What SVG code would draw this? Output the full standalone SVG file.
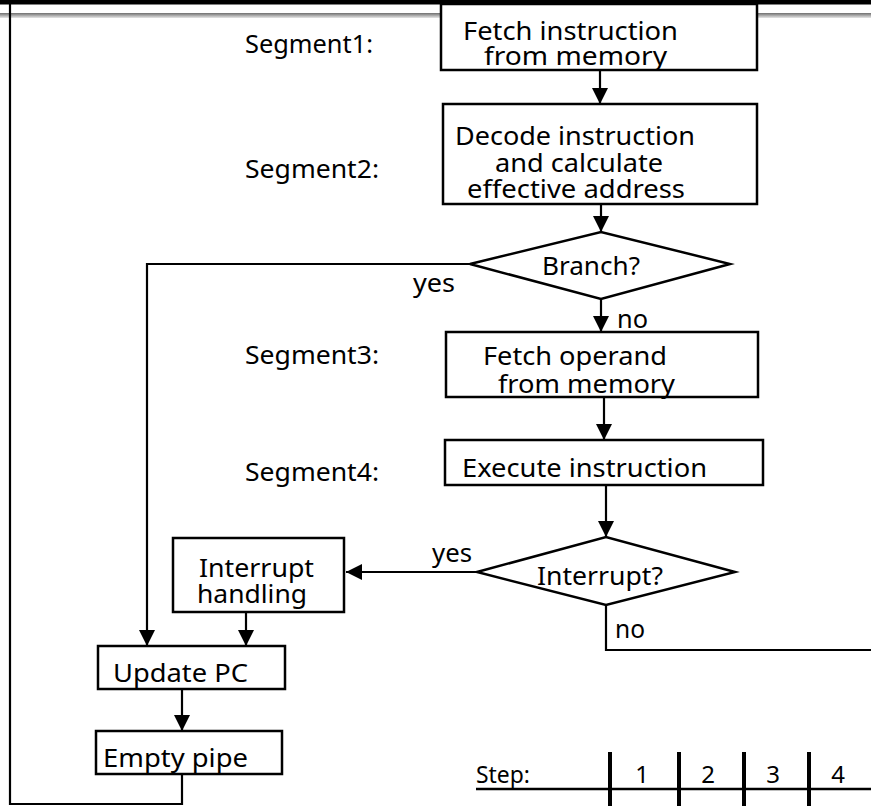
<svg xmlns="http://www.w3.org/2000/svg" width="871" height="806" viewBox="0 0 871 806">
<defs>
<linearGradient id="gl" x1="0" y1="0" x2="0" y2="1">
<stop offset="0" stop-color="#6f6f6f"/>
<stop offset="1" stop-color="#e6e6e6"/>
</linearGradient>
<marker id="ah" viewBox="0 0 16 16" refX="16" refY="8" markerWidth="16" markerHeight="16" markerUnits="userSpaceOnUse" orient="auto">
<path d="M0,0 L16,8 L0,16 z" fill="#000"/>
</marker>
</defs>
<style>
.box{fill:#fff;stroke:#000;stroke-width:2.5}
.t{font-family:"Noto Sans","Open Sans",sans-serif;font-size:26px;fill:#000}
.s{font-family:"Noto Sans","Open Sans",sans-serif;font-size:24px;fill:#000}
.c{fill:none;stroke:#000;stroke-width:2.2}
.a{fill:none;stroke:#000;stroke-width:2.2;marker-end:url(#ah)}
.tick{stroke:#000;stroke-width:4}
</style>
<rect width="871" height="806" fill="#fff"/>
<rect x="0" y="0" width="871" height="4.5" fill="#000"/>
<rect x="0" y="13" width="871" height="5" fill="url(#gl)"/>

<g id="connectors">
<path class="a" d="M600,70 L600,104"/>
<path class="a" d="M601,204 L601,232"/>
<path class="a" d="M601,299 L601,332"/>
<path class="a" d="M604,397 L604,440"/>
<path class="a" d="M606,485 L606,537"/>
<path class="a" d="M470,264 L147,264 L147,646"/>
<path class="a" d="M477,572 L346,572"/>
<path class="a" d="M246,612 L246,646"/>
<path class="a" d="M182,689 L182,731"/>
<path class="c" d="M182,774 L182,804 L10,804 L10,4"/>
<path class="c" d="M606,605 L606,650 L871,650"/>
</g>

<g id="labels">
<text class="t" x="245" y="53" textLength="128" lengthAdjust="spacingAndGlyphs">Segment1:</text>
<text class="t" x="245" y="178" textLength="134" lengthAdjust="spacingAndGlyphs">Segment2:</text>
<text class="t" x="245" y="364" textLength="134" lengthAdjust="spacingAndGlyphs">Segment3:</text>
<text class="t" x="245" y="481" textLength="134" lengthAdjust="spacingAndGlyphs">Segment4:</text>
<text class="t" x="413" y="292" textLength="42" lengthAdjust="spacingAndGlyphs">yes</text>
<text class="t" x="617" y="328" textLength="31" lengthAdjust="spacingAndGlyphs">no</text>
<text class="t" x="432" y="562" textLength="40" lengthAdjust="spacingAndGlyphs">yes</text>
<text class="t" x="615" y="638" textLength="30" lengthAdjust="spacingAndGlyphs">no</text>
</g>

<g id="fetch-instruction">
<rect class="box" x="441" y="4" width="316" height="66"/>
<text class="t" x="463" y="40" textLength="215" lengthAdjust="spacingAndGlyphs">Fetch instruction</text>
<text class="t" x="484" y="65" textLength="183" lengthAdjust="spacingAndGlyphs">from memory</text>
</g>

<g id="decode">
<rect class="box" x="443" y="104" width="314" height="100"/>
<text class="t" x="455" y="145" textLength="240" lengthAdjust="spacingAndGlyphs">Decode instruction</text>
<text class="t" x="495" y="172" textLength="168" lengthAdjust="spacingAndGlyphs">and calculate</text>
<text class="t" x="467" y="198" textLength="218" lengthAdjust="spacingAndGlyphs">effective address</text>
</g>

<g id="branch">
<polygon class="box" points="470,264 601,232 730,264 601,299"/>
<text class="t" x="542" y="275" textLength="98" lengthAdjust="spacingAndGlyphs">Branch?</text>
</g>

<g id="fetch-operand">
<rect class="box" x="446" y="332" width="312" height="65"/>
<text class="t" x="483" y="365" textLength="184" lengthAdjust="spacingAndGlyphs">Fetch operand</text>
<text class="t" x="498" y="393" textLength="177" lengthAdjust="spacingAndGlyphs">from memory</text>
</g>

<g id="execute">
<rect class="box" x="445" y="440" width="318" height="45"/>
<text class="t" x="462" y="477" textLength="245" lengthAdjust="spacingAndGlyphs">Execute instruction</text>
</g>

<g id="interrupt">
<polygon class="box" points="477,572 606,537 735,572 606,605"/>
<text class="t" x="537" y="585" textLength="126" lengthAdjust="spacingAndGlyphs">Interrupt?</text>
</g>

<g id="interrupt-handling">
<rect class="box" x="173" y="538" width="171" height="74"/>
<text class="t" x="199" y="577" textLength="115" lengthAdjust="spacingAndGlyphs">Interrupt</text>
<text class="t" x="197" y="603" textLength="110" lengthAdjust="spacingAndGlyphs">handling</text>
</g>

<g id="update-pc">
<rect class="box" x="98" y="646" width="187" height="43"/>
<text class="t" x="113" y="682" textLength="135" lengthAdjust="spacingAndGlyphs">Update PC</text>
</g>

<g id="empty-pipe">
<rect class="box" x="96" y="731" width="186" height="43"/>
<text class="t" x="103" y="767" textLength="145" lengthAdjust="spacingAndGlyphs">Empty pipe</text>
</g>

<g id="step-scale">
<text class="s" x="476" y="783" textLength="54" lengthAdjust="spacingAndGlyphs">Step:</text>
<line x1="476" y1="789" x2="871" y2="789" stroke="#000" stroke-width="2.5"/>
<line class="tick" x1="610" y1="752" x2="610" y2="806"/>
<line class="tick" x1="679" y1="752" x2="679" y2="806"/>
<line class="tick" x1="744" y1="752" x2="744" y2="806"/>
<line class="tick" x1="809" y1="752" x2="809" y2="806"/>
<text class="s" x="642" y="783" text-anchor="middle">1</text>
<text class="s" x="708" y="783" text-anchor="middle">2</text>
<text class="s" x="773" y="783" text-anchor="middle">3</text>
<text class="s" x="838" y="783" text-anchor="middle">4</text>
</g>
</svg>
